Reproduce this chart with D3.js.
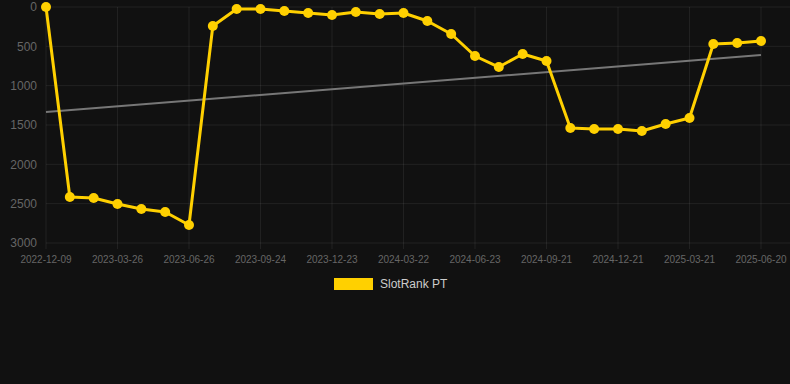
<!DOCTYPE html>
<html>
<head>
<meta charset="utf-8">
<script src="https://cdn.jsdelivr.net/npm/d3@7"></script>
<style>
  html, body { margin: 0; padding: 0; background: #111111; }
  svg { display: block; font-family: "Liberation Sans", Arial, sans-serif; }
</style>
</head>
<body>
<svg id="chart" width="790" height="384"></svg>
<script>
// ------------------------------------------------------
// DATA
// ------------------------------------------------------

var dates = [
  '2022-12-09', '2023-01-10', '2023-02-20', '2023-03-26', '2023-04-26', '2023-05-26',
  '2023-06-26', '2023-07-26', '2023-08-25', '2023-09-24', '2023-10-24', '2023-11-23',
  '2023-12-23', '2024-01-22', '2024-02-21', '2024-03-22', '2024-04-22', '2024-05-23',
  '2024-06-23', '2024-07-23', '2024-08-22', '2024-09-21', '2024-10-21', '2024-11-20',
  '2024-12-21', '2025-01-20', '2025-02-19', '2025-03-21', '2025-04-20', '2025-05-21',
  '2025-06-20'
];
var ranks = [
  0, 2415, 2428, 2504, 2568, 2606,
  2771, 241, 25, 25, 51, 76,
  102, 64, 89, 76, 178, 343,
  623, 763, 597, 686, 1538, 1551,
  1551, 1576, 1487, 1411, 470, 458,
  432
];
var trendStart = 1335;
var trendEnd = 610;
var yTicks = [0, 500, 1000, 1500, 2000, 2500, 3000];
var seriesName = 'SlotRank PT';

// ------------------------------------------------------
// SCALES
// ------------------------------------------------------

var svg = d3.select('#chart');
var plotLeft = 46, plotRight = 790, plotTop = 7, plotBottom = 243;

var x = d3.scalePoint().domain(dates).range([plotLeft, 761]);
var y = d3.scaleLinear().domain([0, 3000]).range([plotTop, plotBottom]);

var gridColor = 'rgba(255,255,255,0.07)';
var textColor = '#666666';

// grid
svg.append('g').selectAll('line').data(yTicks).join('line')
  .attr('x1', plotLeft).attr('x2', plotRight)
  .attr('y1', function (d) { return y(d); }).attr('y2', function (d) { return y(d); })
  .attr('stroke', gridColor).attr('stroke-width', 1);

var shownDates = dates.filter(function (d, i) { return i % 3 === 0; });
svg.append('g').selectAll('line').data(shownDates).join('line')
  .attr('x1', function (d) { return x(d); }).attr('x2', function (d) { return x(d); })
  .attr('y1', plotTop).attr('y2', plotBottom + 6)
  .attr('stroke', gridColor).attr('stroke-width', 1);

// y axis labels
svg.append('g').selectAll('text').data(yTicks).join('text')
  .attr('x', 37).attr('y', function (d) { return y(d); })
  .attr('dy', '0.35em')
  .attr('text-anchor', 'end')
  .attr('fill', textColor)
  .style('font-size', '12px')
  .text(function (d) { return d; });

// x axis labels
svg.append('g').selectAll('text').data(shownDates).join('text')
  .attr('x', function (d) { return x(d); }).attr('y', 259)
  .attr('dy', '0.35em')
  .attr('text-anchor', 'middle')
  .attr('fill', textColor)
  .style('font-size', '10px')
  .text(function (d) { return d; });

// trend line
svg.append('line')
  .attr('x1', x(dates[0])).attr('y1', y(trendStart))
  .attr('x2', x(dates[dates.length - 1])).attr('y2', y(trendEnd))
  .attr('stroke', '#777777').attr('stroke-width', 2);

// series line
var line = d3.line()
  .x(function (d, i) { return x(dates[i]); })
  .y(function (d) { return y(d); });

svg.append('path')
  .datum(ranks)
  .attr('d', line)
  .attr('fill', 'none')
  .attr('stroke', '#FFD000')
  .attr('stroke-width', 3)
  .attr('stroke-linejoin', 'round');

svg.append('g').selectAll('circle').data(ranks).join('circle')
  .attr('cx', function (d, i) { return x(dates[i]); })
  .attr('cy', function (d) { return y(d); })
  .attr('r', 5)
  .attr('fill', '#FFD000');

// legend
svg.append('rect')
  .attr('x', 334).attr('y', 278).attr('width', 39).attr('height', 12)
  .attr('fill', '#FFD000');
svg.append('text')
  .attr('x', 380).attr('y', 284).attr('dy', '0.35em')
  .attr('fill', '#cccccc')
  .style('font-size', '12px')
  .text(seriesName);
</script>
</body>
</html>
